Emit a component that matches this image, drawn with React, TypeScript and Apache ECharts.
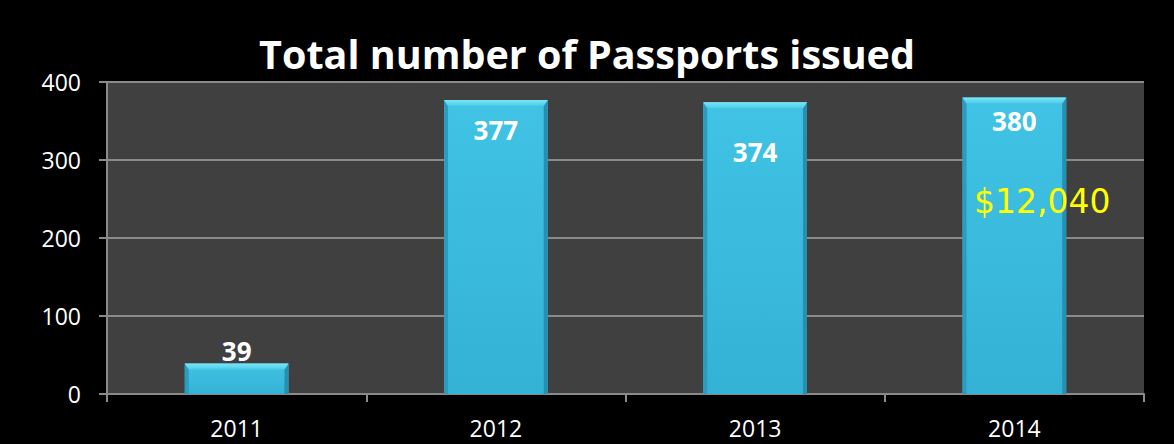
import React, { useEffect, useRef } from "react";
import * as echarts from "echarts";

const categories = ["2011", "2012", "2013", "2014"];
const passports = [39, 377, 374, 380];
const yTicks = [0, 100, 200, 300, 400];
const titleText = "Total number of Passports issued";
const noteText = "$12,040";

export default function App() {
  const ref = useRef<HTMLDivElement>(null);
  useEffect(() => {
    if (!ref.current) return;
    const chart = echarts.init(ref.current, undefined, { renderer: "svg" });
    const labelPos: any[] = [
      { position: "top", distance: 0 },
      { position: "insideTop", distance: 17 },
      { position: "insideTop", distance: 37 },
      { position: "insideTop", distance: 10 },
    ];
    const renderBevel = (params: any, api: any) => {
      const idx = api.value(0);
      const val = api.value(1);
      const top = api.coord([idx, val]);
      const base = api.coord([idx, 0]);
      const w = api.size([1, 0])[0] * 0.4;
      const x0 = top[0] - w / 2;
      const x1 = top[0] + w / 2;
      const y0 = top[1];
      const y1 = base[1];
      const b = Math.min(6, (y1 - y0) / 2);
      const s = 4;
      return {
        type: "group",
        children: [
          {
            type: "rect",
            shape: { x: x0, y: y0, width: w, height: y1 - y0 },
            style: {
              fill: new echarts.graphic.LinearGradient(0, 0, 0, 1, [
                { offset: 0, color: "#40c3e4" },
                { offset: 1, color: "#34b2d6" },
              ]),
            },
          },
          {
            type: "polygon",
            shape: { points: [[x0, y0], [x0 + s, y0 + b], [x0 + s, y1], [x0, y1]] },
            style: { fill: "#2b9cbf" },
          },
          {
            type: "polygon",
            shape: { points: [[x1, y0], [x1 - s, y0 + b], [x1 - s, y1], [x1, y1]] },
            style: { fill: "#278fb0" },
          },
          {
            type: "polygon",
            shape: { points: [[x0, y0], [x1, y0], [x1 - s, y0 + b], [x0 + s, y0 + b]] },
            style: {
              fill: new echarts.graphic.LinearGradient(0, 0, 0, 1, [
                { offset: 0, color: "#7ae6f8" },
                { offset: 1, color: "#4ccbe8" },
              ]),
            },
          },
        ],
      };
    };
    chart.setOption({
      animation: false,
      backgroundColor: "#000000",
      title: {
        text: titleText,
        left: "center",
        top: 29,
        textStyle: {
          color: "#ffffff",
          fontFamily: "Open Sans",
          fontWeight: "bold",
          fontSize: 39.5,
        },
      },
      grid: {
        left: 107,
        right: 30,
        top: 82,
        bottom: 50,
        show: true,
        backgroundColor: "#404040",
        borderWidth: 0,
      },
      xAxis: {
        type: "category",
        data: categories,
        axisLine: { lineStyle: { color: "#8a8a8a", width: 2 } },
        axisTick: { show: true, length: 8, lineStyle: { color: "#8a8a8a", width: 2 } },
        axisLabel: {
          color: "#ffffff",
          fontFamily: "Open Sans",
          fontSize: 23,
          margin: 22,
        },
      },
      yAxis: {
        type: "value",
        min: yTicks[0],
        max: yTicks[yTicks.length - 1],
        interval: 100,
        axisLine: { show: true, lineStyle: { color: "#8a8a8a", width: 2 } },
        axisTick: { show: true, length: 8, lineStyle: { color: "#8a8a8a", width: 2 } },
        splitLine: { lineStyle: { color: "#8a8a8a", width: 2 } },
        axisLabel: {
          color: "#ffffff",
          fontFamily: "Open Sans",
          fontSize: 23,
          margin: 26,
        },
      },
      series: [
        {
          type: "custom",
          z: 2,
          renderItem: renderBevel,
          data: passports.map((v, i) => [i, v]),
          encode: { x: 0, y: 1 },
        },
        {
          type: "bar",
          z: 3,
          barWidth: "40%",
          data: passports.map((v, i) => ({ value: v, label: labelPos[i] })),
          itemStyle: { color: "rgba(0,0,0,0)" },
          label: {
            show: true,
            color: "#ffffff",
            fontFamily: "Open Sans",
            fontWeight: "bold",
            fontSize: 26,
          },
        },
      ],
      graphic: [
        {
          type: "text",
          z: 100,
          x: 974,
          y: 201,
          style: {
            text: noteText,
            fill: "#ffff00",
            fontFamily: "DejaVu Sans",
            fontSize: 33,
            textVerticalAlign: "middle",
          },
        },
      ],
    });
    return () => chart.dispose();
  }, []);
  return (
    <div
      ref={ref}
      style={{ position: "fixed", left: 0, top: 0, width: 1174, height: 444 }}
    />
  );
}
